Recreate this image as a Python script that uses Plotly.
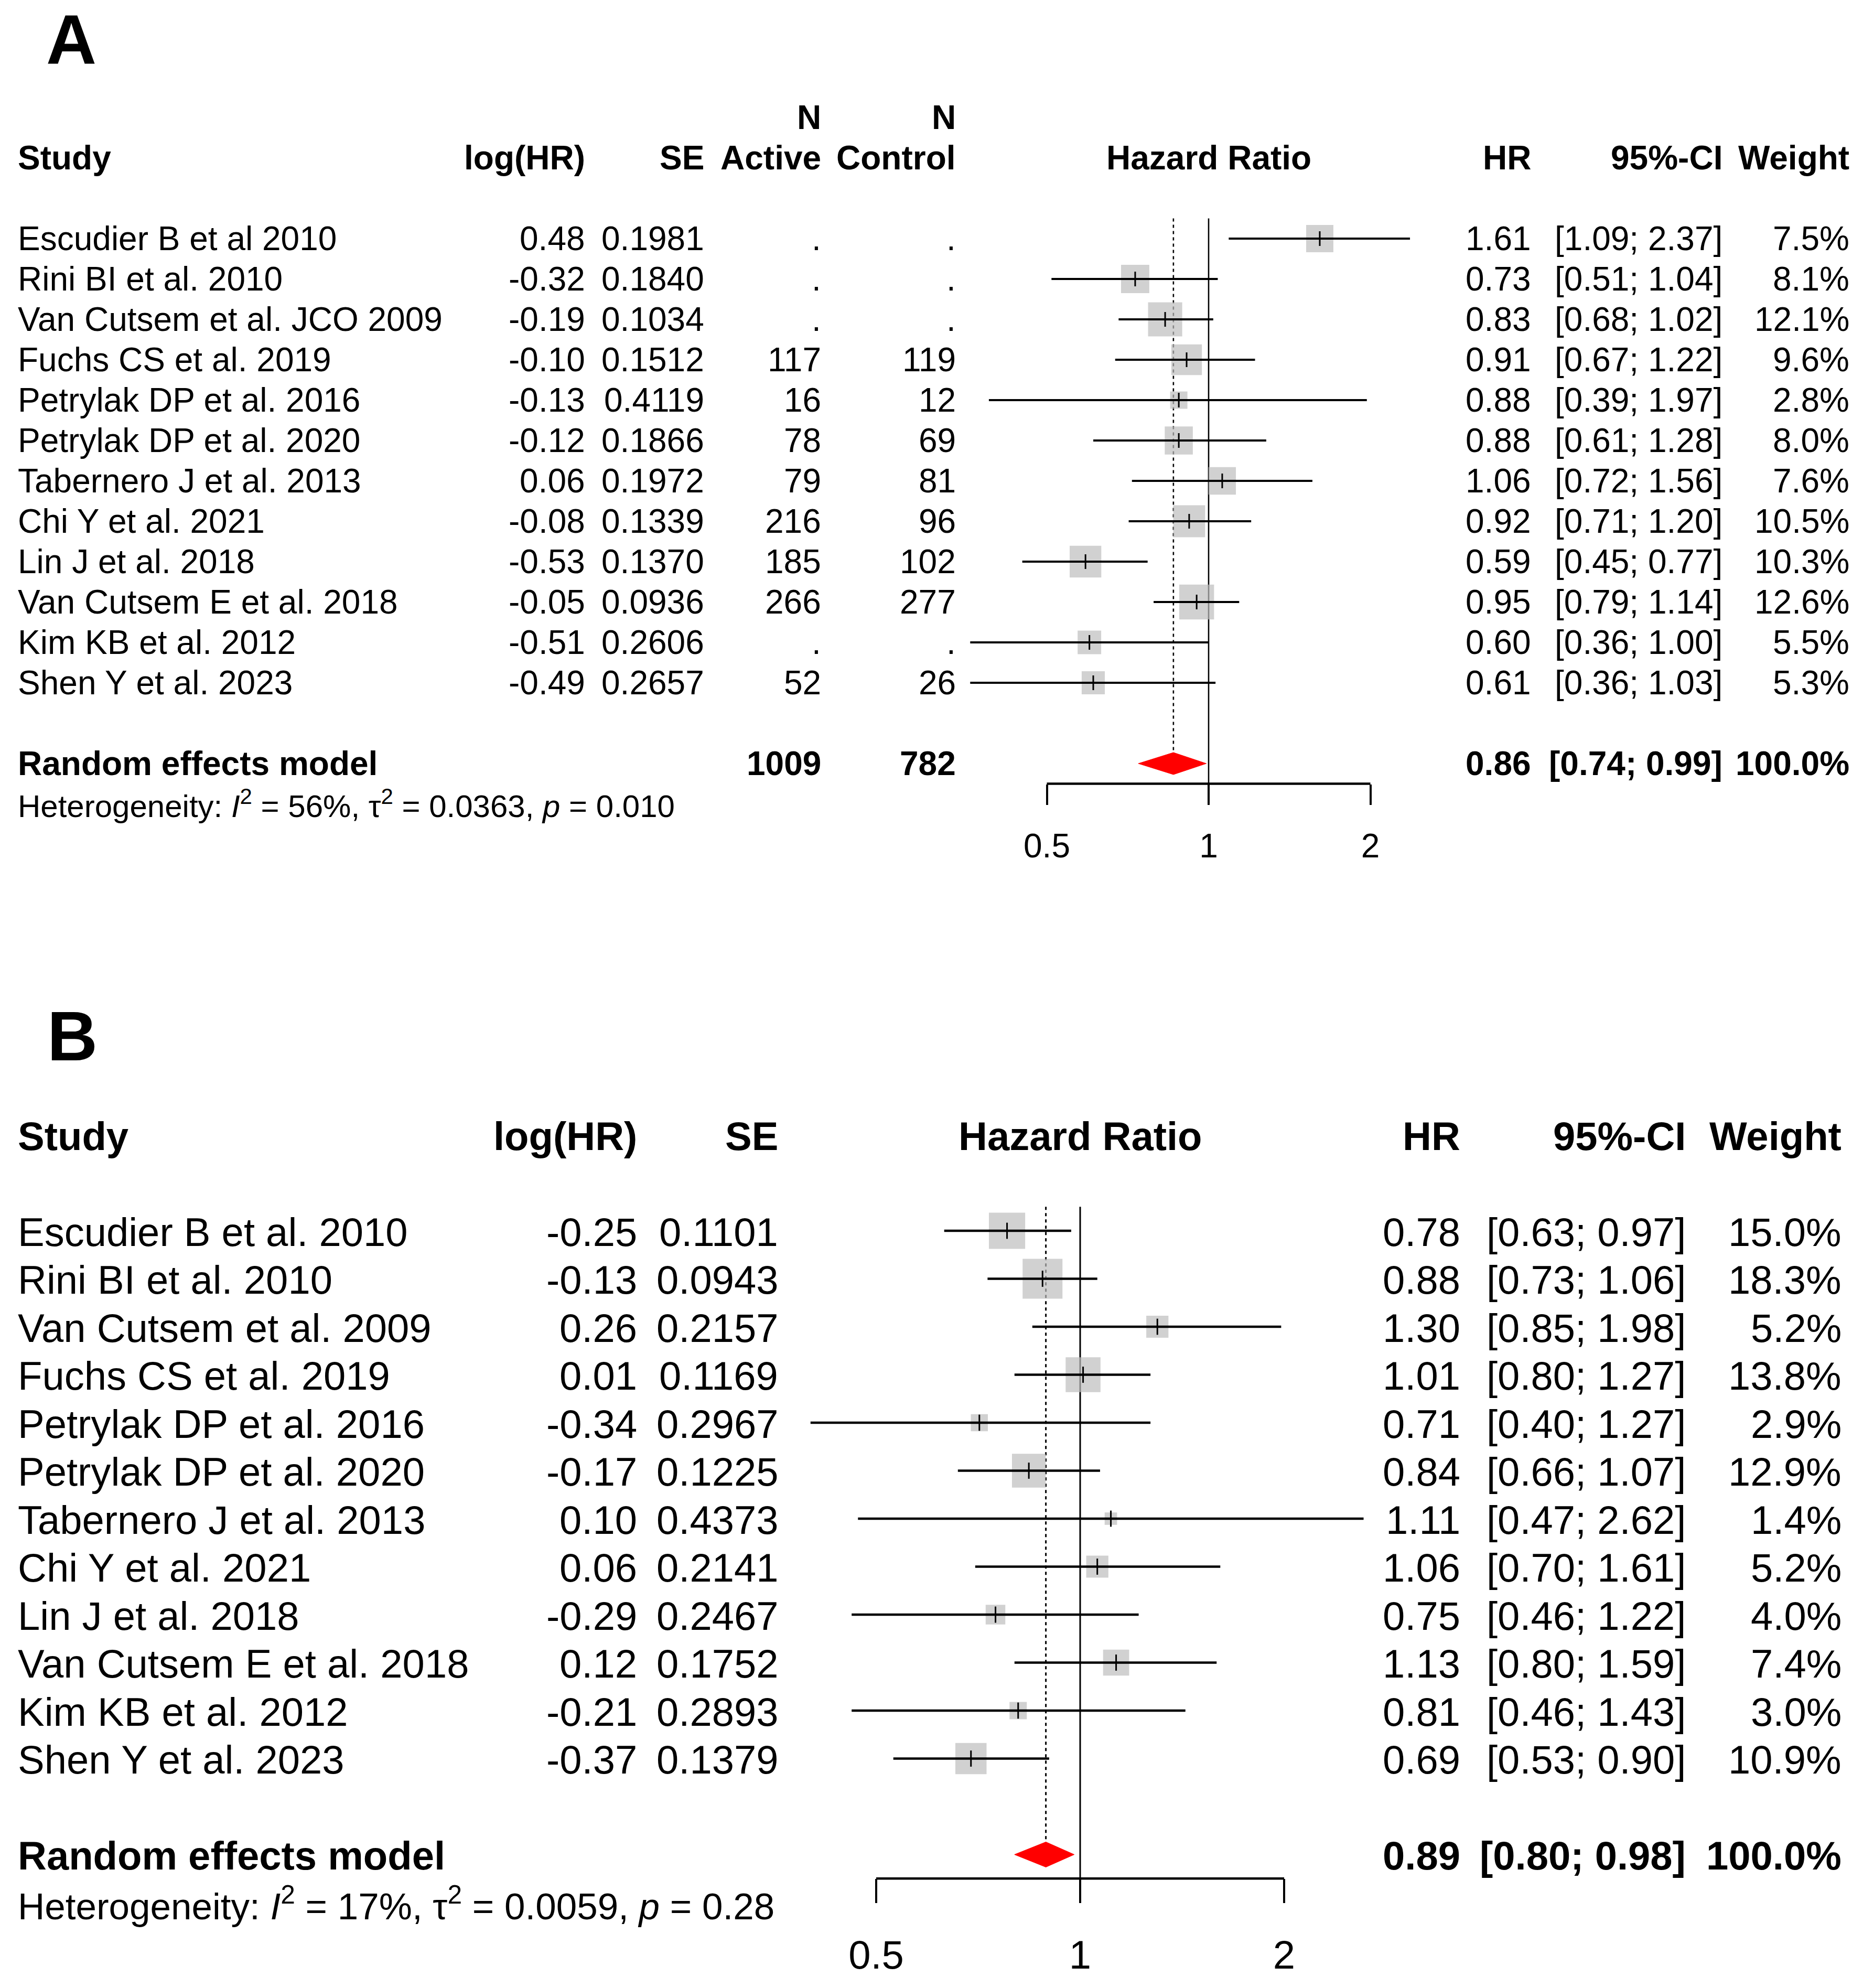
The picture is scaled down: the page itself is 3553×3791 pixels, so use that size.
import math
import plotly.graph_objects as go

W, H = 3553, 3791
FONT = "Liberation Sans, Arial, Helvetica, sans-serif"

# ---------------- Panel A data ----------------
a_studies = ["Escudier B et al 2010", "Rini BI et al. 2010", "Van Cutsem et al. JCO 2009",
             "Fuchs CS et al. 2019", "Petrylak DP et al. 2016", "Petrylak DP et al. 2020",
             "Tabernero J et al. 2013", "Chi Y et al. 2021", "Lin J et al. 2018",
             "Van Cutsem E et al. 2018", "Kim KB et al. 2012", "Shen Y et al. 2023"]
a_loghr = [0.48, -0.32, -0.19, -0.10, -0.13, -0.12, 0.06, -0.08, -0.53, -0.05, -0.51, -0.49]
a_se = [0.1981, 0.1840, 0.1034, 0.1512, 0.4119, 0.1866, 0.1972, 0.1339, 0.1370, 0.0936, 0.2606, 0.2657]
a_n_active = [None, None, None, 117, 16, 78, 79, 216, 185, 266, None, 52]
a_n_control = [None, None, None, 119, 12, 69, 81, 96, 102, 277, None, 26]
a_hr = [1.61, 0.73, 0.83, 0.91, 0.88, 0.88, 1.06, 0.92, 0.59, 0.95, 0.60, 0.61]
a_lo = [1.09, 0.51, 0.68, 0.67, 0.39, 0.61, 0.72, 0.71, 0.45, 0.79, 0.36, 0.36]
a_hi = [2.37, 1.04, 1.02, 1.22, 1.97, 1.28, 1.56, 1.20, 0.77, 1.14, 1.00, 1.03]
a_weight = [7.5, 8.1, 12.1, 9.6, 2.8, 8.0, 7.6, 10.5, 10.3, 12.6, 5.5, 5.3]
a_pooled = [0.86, 0.74, 0.99]          # HR, lower, upper
a_pooled_n = [1009, 782]               # N active, N control
a_het = ["56%", "0.0363", "0.010"]     # I^2, tau^2, p

# ---------------- Panel B data ----------------
b_studies = ["Escudier B et al. 2010", "Rini BI et al. 2010", "Van Cutsem et al. 2009",
             "Fuchs CS et al. 2019", "Petrylak DP et al. 2016", "Petrylak DP et al. 2020",
             "Tabernero J et al. 2013", "Chi Y et al. 2021", "Lin J et al. 2018",
             "Van Cutsem E et al. 2018", "Kim KB et al. 2012", "Shen Y et al. 2023"]
b_loghr = [-0.25, -0.13, 0.26, 0.01, -0.34, -0.17, 0.10, 0.06, -0.29, 0.12, -0.21, -0.37]
b_se = [0.1101, 0.0943, 0.2157, 0.1169, 0.2967, 0.1225, 0.4373, 0.2141, 0.2467, 0.1752, 0.2893, 0.1379]
b_hr = [0.78, 0.88, 1.30, 1.01, 0.71, 0.84, 1.11, 1.06, 0.75, 1.13, 0.81, 0.69]
b_lo = [0.63, 0.73, 0.85, 0.80, 0.40, 0.66, 0.47, 0.70, 0.46, 0.80, 0.46, 0.53]
b_hi = [0.97, 1.06, 1.98, 1.27, 1.27, 1.07, 2.62, 1.61, 1.22, 1.59, 1.43, 0.90]
b_weight = [15.0, 18.3, 5.2, 13.8, 2.9, 12.9, 1.4, 5.2, 4.0, 7.4, 3.0, 10.9]
b_pooled = [0.89, 0.80, 0.98]
b_het = ["17%", "0.0059", "0.28"]

tick_vals = [0.5, 1, 2]
tick_text = ["0.5", "1", "2"]

# ---------------- layout geometry (pixels) ----------------
geomA = dict(row0=455, dy=77.0, x1=2305, per2=308.5, fs=64, ydom=(0.5, 1.0),
             cols=dict(study=32, loghr=1118, se=1345, nact=1568, nctl=1825,
                       hr=2922, ci=3287, w=3529),
             sq_k=17.8, sq_c=3.2, dia_h=21, label="A", label_x=86, label_y=76,
             ticklen=39, standoff=24, ciw=4.0, refw=2.6, tick=20, yshift=0)
geomB = dict(row0=2347, dy=91.5, x1=2060, per2=389.0, fs=76, ydom=(0.0, 0.5),
             cols=dict(study=32, loghr=1217, se=1486, hr=2787, ci=3217, w=3514),
             sq_k=16.9, sq_c=3.7, dia_h=24, label="B", label_x=88, label_y=1976,
             ticklen=46, standoff=34, ciw=4.6, refw=3.0, tick=22, yshift=-2)

fig = go.Figure()


def add_panel(sfx, g, studies, loghr, se, hr, lo, hi, weight, pooled, het,
              n_active=None, n_control=None, pooled_n=None):
    xa = "x" + sfx
    ya = "y" + sfx
    yref = "y" + sfx
    fs = g["fs"]
    n = len(studies)
    rows = list(range(n))
    r_pool = n + 1
    r_het = n + 2
    r_axis = n + 1.5
    r_tick = n + 2
    h = g["dia_h"] / g["dy"]

    # reference line at HR = 1 and dotted line at pooled estimate
    fig.add_trace(go.Scatter(x=[1, 1], y=[-0.5, r_tick], mode="lines",
                             line=dict(color="black", width=g["refw"]),
                             xaxis=xa, yaxis=ya, showlegend=False, hoverinfo="skip"))
    fig.add_trace(go.Scatter(x=[pooled[0], pooled[0]], y=[-0.5, r_pool - h], mode="lines",
                             line=dict(color="black", width=g["refw"], dash="6px,6px"),
                             xaxis=xa, yaxis=ya, showlegend=False, hoverinfo="skip"))
    # weight squares
    sizes = [g["sq_k"] * math.sqrt(w) + g["sq_c"] for w in weight]
    fig.add_trace(go.Scatter(x=hr, y=rows, mode="markers",
                             marker=dict(symbol="square", size=sizes, color="#BEBEBE",
                                         line=dict(width=0)),
                             xaxis=xa, yaxis=ya, showlegend=False, hoverinfo="skip"))
    # confidence intervals
    cx, cy = [], []
    for r, l, u in zip(rows, lo, hi):
        cx += [l, u, None]
        cy += [r, r, None]
    fig.add_trace(go.Scatter(x=cx, y=cy, mode="lines",
                             line=dict(color="black", width=g["ciw"]),
                             xaxis=xa, yaxis=ya, showlegend=False, hoverinfo="skip"))
    # point estimate ticks
    fig.add_trace(go.Scatter(x=hr, y=rows, mode="markers",
                             marker=dict(symbol="line-ns", size=g["tick"], color="black",
                                         line=dict(color="black", width=3)),
                             xaxis=xa, yaxis=ya, showlegend=False, hoverinfo="skip"))
    # pooled diamond
    fig.add_trace(go.Scatter(x=[pooled[1], pooled[0], pooled[2], pooled[0], pooled[1]],
                             y=[r_pool, r_pool - h, r_pool, r_pool + h, r_pool],
                             mode="lines", fill="toself", fillcolor="#FF0000",
                             line=dict(color="#FF0000", width=1),
                             xaxis=xa, yaxis=ya, showlegend=False, hoverinfo="skip"))
    # x axis baseline between first and last tick
    fig.add_trace(go.Scatter(x=[tick_vals[0], tick_vals[-1]], y=[r_axis, r_axis], mode="lines",
                             line=dict(color="black", width=4.5),
                             xaxis=xa, yaxis=ya, showlegend=False, hoverinfo="skip"))

    def txt(xp, row, text, anchor, bold=False, size=None):
        fig.add_annotation(x=xp / W, xref="paper", y=row, yref=yref,
                           text=("<b>%s</b>" % text) if bold else text,
                           showarrow=False, xanchor=anchor, yanchor="middle",
                           yshift=g["yshift"],
                           font=dict(family=FONT, size=size or fs, color="black"))

    c = g["cols"]
    x1 = g["x1"]
    # headers
    txt(c["study"], -2, "Study", "left", True)
    txt(c["loghr"], -2, "log(HR)", "right", True)
    txt(c["se"], -2, "SE", "right", True)
    if n_active is not None:
        txt(c["nact"], -3, "N", "right", True)
        txt(c["nctl"], -3, "N", "right", True)
        txt(c["nact"], -2, "Active", "right", True)
        txt(c["nctl"], -2, "Control", "right", True)
    txt(x1, -2, "Hazard Ratio", "center", True)
    txt(c["hr"], -2, "HR", "right", True)
    txt(c["ci"], -2, "95%-CI", "right", True)
    txt(c["w"], -2, "Weight", "right", True)

    # study rows
    for i in range(n):
        txt(c["study"], i, studies[i], "left")
        txt(c["loghr"], i, "%.2f" % loghr[i], "right")
        txt(c["se"], i, "%.4f" % se[i], "right")
        if n_active is not None:
            txt(c["nact"], i, "." if n_active[i] is None else str(n_active[i]), "right")
            txt(c["nctl"], i, "." if n_control[i] is None else str(n_control[i]), "right")
        txt(c["hr"], i, "%.2f" % hr[i], "right")
        txt(c["ci"], i, "[%.2f; %.2f]" % (lo[i], hi[i]), "right")
        txt(c["w"], i, "%.1f%%" % weight[i], "right")

    # pooled row
    txt(c["study"], r_pool, "Random effects model", "left", True)
    if pooled_n is not None:
        txt(c["nact"], r_pool, str(pooled_n[0]), "right", True)
        txt(c["nctl"], r_pool, str(pooled_n[1]), "right", True)
    txt(c["hr"], r_pool, "%.2f" % pooled[0], "right", True)
    txt(c["ci"], r_pool, "[%.2f; %.2f]" % (pooled[1], pooled[2]), "right", True)
    txt(c["w"], r_pool, "100.0%", "right", True)
    txt(c["study"], r_het,
        "Heterogeneity: <i>I</i><sup>2</sup> = %s, \u03c4<sup>2</sup> = %s, <i>p</i> = %s"
        % (het[0], het[1], het[2]), "left", size=round(fs * 0.94))

    # panel label
    fig.add_annotation(x=g["label_x"] / W, xref="paper",
                       y=(g["label_y"] - g["row0"]) / g["dy"], yref=yref,
                       text="<b>%s</b>" % g["label"], showarrow=False,
                       xanchor="left", yanchor="middle",
                       font=dict(family=FONT, size=133, color="black"))

    # axes
    l2 = math.log10(2)
    xr = [(0 - x1) / g["per2"] * l2, (W - x1) / g["per2"] * l2]
    top_px = (1 - g["ydom"][1]) * H
    bot_px = (1 - g["ydom"][0]) * H
    yr = [(bot_px - g["row0"]) / g["dy"], (top_px - g["row0"]) / g["dy"]]
    axis_pos = 1 - (g["row0"] + r_axis * g["dy"]) / H
    xname = "xaxis" + sfx
    yname = "yaxis" + sfx
    fig.update_layout(**{
        xname: dict(type="log", domain=[0, 1], range=xr, anchor="free", position=axis_pos,
                    showgrid=False, zeroline=False, showline=False,
                    tickmode="array", tickvals=tick_vals, ticktext=tick_text,
                    ticks="outside", ticklen=g["ticklen"], tickwidth=3.5, tickcolor="black",
                    ticklabelstandoff=g["standoff"],
                    tickfont=dict(family=FONT, size=fs, color="black"), fixedrange=True),
        yname: dict(domain=list(g["ydom"]), range=yr, visible=False, fixedrange=True),
    })


add_panel("", geomA, a_studies, a_loghr, a_se, a_hr, a_lo, a_hi, a_weight, a_pooled, a_het,
          n_active=a_n_active, n_control=a_n_control, pooled_n=a_pooled_n)
add_panel("2", geomB, b_studies, b_loghr, b_se, b_hr, b_lo, b_hi, b_weight, b_pooled, b_het)

fig.update_layout(width=W, height=H, margin=dict(l=0, r=0, t=0, b=0),
                  paper_bgcolor="white", plot_bgcolor="rgba(0,0,0,0)",
                  showlegend=False, font=dict(family=FONT, color="black"))

fig.write_html("out.html", config={"displayModeBar": False},
               post_script="document.body.style.margin='0px';document.body.style.padding='0px';")
